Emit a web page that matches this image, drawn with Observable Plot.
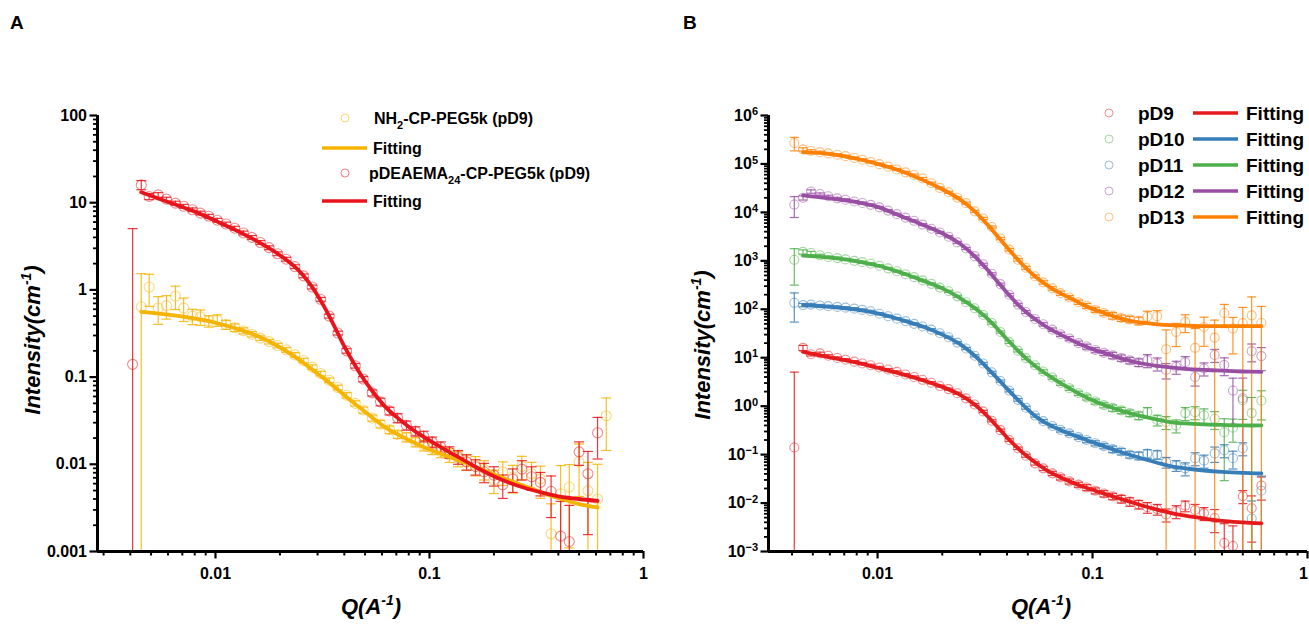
<!DOCTYPE html>
<html>
<head>
<meta charset="utf-8">
<script src="https://cdn.jsdelivr.net/npm/d3@7"></script>
<script src="https://cdn.jsdelivr.net/npm/@observablehq/plot@0.6"></script>
<style>
  html, body { margin: 0; padding: 0; background: #fff; }
  body { width: 1309px; height: 624px; overflow: hidden; position: relative; font-family: "Liberation Sans", Arial, sans-serif; }
  .panel { position: absolute; top: 0; }
  .panel svg { display: block; overflow: visible; }
  .letter { position: absolute; font-weight: bold; font-size: 19px; line-height: 19px; }
</style>
</head>
<body>
<div class="letter" style="left:10px;top:13px">A</div>
<div class="letter" style="left:683px;top:13px">B</div>
<div id="pa" class="panel" style="left:0px"></div>
<div id="pb" class="panel" style="left:660px"></div>
<script>
// ---------------- DATA ----------------
// Scattering vector Q (Å^-1) of the measured points
const qData = [0.0041,0.0045,0.0049,0.0054,0.0059,0.0065,0.0071,0.0078,0.0085,0.0093,0.0102,0.0112,0.0123,0.0135,0.0148,0.0162,0.0178,0.0195,0.0214,0.0235,0.0258,0.0283,0.031,0.034,0.0373,0.041,0.045,0.049,0.054,0.059,0.065,0.071,0.078,0.086,0.094,0.103,0.113,0.124,0.136,0.149,0.164,0.18,0.2,0.22,0.245,0.27,0.3,0.33,0.37,0.41,0.45,0.5,0.55,0.61,0.67];

// Measured intensities (cm^-1) and relative errors
const dataNH2 = [null,0.64,1.08,0.62,0.66,0.85,0.62,0.50,0.49,0.44,0.45,0.40,0.37,0.34,0.31,0.28,0.255,0.23,0.205,0.18,0.155,0.13,0.11,0.092,0.076,0.062,0.05,0.042,0.034,0.029,0.025,0.022,0.0205,0.018,0.0165,0.0152,0.014,0.0128,0.0117,0.0107,0.0098,0.0088,0.0066,0.0082,0.0072,0.0095,0.0078,0.0068,0.0016,0.0046,0.0055,0.0107,0.0050,0.004,0.036];
const relNH2 = [null,1.4,0.4,0.35,0.3,0.3,0.3,0.2,0.2,0.15,0.15,0.12,0.1,0.08,0.07,0.06,0.06,0.06,0.06,0.06,0.06,0.06,0.06,0.06,0.06,0.07,0.07,0.08,0.08,0.1,0.1,0.1,0.12,0.12,0.14,0.15,0.15,0.18,0.2,0.2,0.25,0.25,0.3,0.3,0.35,0.3,0.35,0.4,1.2,1.1,0.8,0.6,1.1,1.5,0.6];

const dataPD9 = [0.14,16,11.8,12.3,11.0,9.9,9.1,8.3,7.6,7.0,6.3,5.7,5.1,4.5,4.0,3.5,3.05,2.6,2.25,1.85,1.45,1.08,0.78,0.5,0.32,0.2,0.135,0.095,0.066,0.052,0.041,0.034,0.028,0.024,0.021,0.018,0.0157,0.0138,0.0122,0.0107,0.0094,0.0082,0.0075,0.0058,0.0068,0.0088,0.0072,0.0062,0.0049,0.0015,0.0013,0.0139,0.0078,0.023,null];
const relPD9 = [35,0.12,0.08,0.06,0.05,0.05,0.05,0.05,0.05,0.05,0.05,0.05,0.05,0.05,0.05,0.05,0.05,0.05,0.05,0.05,0.05,0.05,0.05,0.05,0.05,0.06,0.06,0.07,0.08,0.1,0.1,0.12,0.12,0.12,0.14,0.14,0.15,0.15,0.18,0.2,0.2,0.25,0.25,0.3,0.3,0.25,0.3,0.3,0.5,1.5,1.6,0.3,0.8,0.5,null];

const dataPD10 = [136,122,125,120,116,112,108,103,97,91,81,72,64,57,50,44,38,32,26.5,20.5,15.5,11,7.6,5,3.3,2.1,1.35,0.93,0.64,0.49,0.39,0.325,0.275,0.23,0.2,0.172,0.15,0.13,0.116,0.1,0.095,0.105,0.1,0.07,0.06,0.052,0.084,0.075,0.106,0.123,0.084,0.135,0.0048,0.018,null];
const relPD10 = [0.6,0.08,0.06,0.05,0.05,0.05,0.05,0.05,0.05,0.05,0.05,0.05,0.05,0.05,0.05,0.05,0.05,0.05,0.05,0.05,0.05,0.05,0.05,0.05,0.05,0.06,0.06,0.07,0.07,0.08,0.08,0.1,0.1,0.1,0.12,0.12,0.12,0.15,0.15,0.15,0.18,0.2,0.2,0.25,0.25,0.3,0.3,0.3,0.35,0.3,0.4,0.3,1.3,1.0,null];

const dataPD11 = [1050,1530,1450,1300,1200,1140,1070,1000,940,870,790,700,610,530,460,395,335,280,235,185,140,105,76,52,34,21,14,9.8,7.0,5.2,3.9,3.0,2.35,1.85,1.52,1.25,1.05,0.92,0.82,0.72,0.64,0.75,0.52,0.47,0.40,0.72,0.75,0.65,0.55,0.29,0.36,1.33,0.72,1.3,null];
const relPD11 = [0.7,0.1,0.08,0.05,0.05,0.05,0.05,0.05,0.05,0.05,0.05,0.05,0.05,0.05,0.05,0.05,0.05,0.05,0.05,0.05,0.05,0.05,0.05,0.05,0.05,0.06,0.06,0.07,0.07,0.08,0.08,0.1,0.1,0.1,0.12,0.12,0.12,0.15,0.15,0.15,0.18,0.25,0.25,0.3,0.3,0.3,0.3,0.35,0.4,0.9,0.5,0.6,1.1,0.6,null];

const dataPD12 = [14500,20000,27000,24000,21500,19500,18200,16800,15600,14300,12700,10900,9200,7800,6700,5600,4600,3850,3150,2400,1800,1250,850,540,330,200,125,88,63,49,38,30.5,25,20,17,14.4,12.6,11.2,9.9,8.8,8.0,8.9,7.6,5.6,6.5,8.1,4.0,6.0,11.4,7.1,2.1,1.46,13.7,10.8,null];
const relPD12 = [0.46,0.1,0.08,0.05,0.05,0.05,0.05,0.05,0.05,0.05,0.05,0.05,0.05,0.05,0.05,0.05,0.05,0.05,0.05,0.05,0.05,0.05,0.05,0.05,0.05,0.06,0.06,0.07,0.07,0.08,0.08,0.1,0.1,0.1,0.12,0.12,0.12,0.15,0.15,0.15,0.18,0.3,0.3,0.35,0.3,0.3,0.35,0.3,0.3,0.4,0.8,1.6,0.4,0.5,null];

const dataPD13 = [270000,200000,185000,175000,165000,155000,145000,133000,122000,110000,99000,88000,77000,67000,59000,50000,40000,32000,26000,20000,15500,10500,7500,5000,2900,1700,1050,720,480,360,270,215,175,140,118,98,84,74,66,62,58,70,72,15,34,55,16,43,26,84,40,52,75,52,null];
const relPD13 = [0.31,0.08,0.06,0.05,0.05,0.05,0.05,0.05,0.05,0.05,0.05,0.05,0.05,0.05,0.05,0.05,0.05,0.05,0.05,0.05,0.05,0.05,0.05,0.05,0.05,0.06,0.06,0.07,0.07,0.08,0.08,0.1,0.1,0.1,0.12,0.12,0.12,0.15,0.15,0.15,0.18,0.3,0.3,1.5,0.5,0.4,1.5,0.6,1.3,0.5,0.7,1.1,1.4,1.2,null];

// Fitted curves
const fitQ = [0.0045,0.006,0.008,0.01,0.013,0.016,0.02,0.024,0.028,0.032,0.036,0.04,0.045,0.05,0.056,0.063,0.07,0.08,0.09,0.1,0.115,0.13,0.15,0.17,0.2,0.23,0.27,0.33,0.4,0.5,0.61];
const fitNH2  = [0.56,0.52,0.47,0.42,0.35,0.29,0.22,0.165,0.125,0.097,0.077,0.062,0.049,0.040,0.032,0.026,0.0225,0.019,0.0165,0.0148,0.013,0.0117,0.0102,0.0090,0.0077,0.0067,0.0058,0.0048,0.0041,0.0035,0.0032];
const fitPD9  = [13.2,10.2,7.9,6.2,4.6,3.5,2.5,1.75,1.12,0.66,0.38,0.225,0.135,0.09,0.062,0.044,0.035,0.027,0.022,0.0188,0.0153,0.0129,0.0106,0.0089,0.0073,0.0063,0.0055,0.0048,0.0043,0.0040,0.0038];
const fitPD10 = [122,112,98,82,60,45,30,19.5,11.5,6.5,3.8,2.3,1.35,0.85,0.56,0.41,0.33,0.26,0.215,0.18,0.145,0.12,0.098,0.083,0.068,0.058,0.052,0.047,0.044,0.042,0.041];
const fitPD11 = [1280,1160,980,800,560,400,270,175,110,68,40,24,14,9.0,6.0,4.2,3.1,2.2,1.65,1.32,1.03,0.86,0.71,0.62,0.53,0.47,0.44,0.42,0.41,0.40,0.40];
const fitPD12 = [22500,19500,16300,13000,8200,5700,3700,2300,1300,700,380,220,125,82,56,40,31,23,18,15,12.3,10.3,8.6,7.6,6.8,6.3,5.9,5.6,5.4,5.2,5.1];
const fitPD13 = [175000,160000,128000,100000,70000,48000,30000,19000,11000,6000,3300,1900,1050,650,420,290,220,165,125,102,82,68,58,53,49,47,46,45,45,45,45];

// Axis tick values / labels
const xMajors = [0.01, 0.1, 1];
const xLabels = ["0.01", "0.1", "1"];
const yMajorsA = [0.001, 0.01, 0.1, 1, 10, 100];
const yLabelsA = ["0.001", "0.01", "0.1", "1", "10", "100"];
const yMajorsB = [1e-3, 1e-2, 1e-1, 1, 1e1, 1e2, 1e3, 1e4, 1e5, 1e6];
const yExpB = ["−3", "−2", "−1", "0", "1", "2", "3", "4", "5", "6"];

// Legend texts
const legendBNames = ["pD9", "pD10", "pD11", "pD12", "pD13"];

// ---------------- STYLE ----------------
const YEL = "#f6b400", REDA = "#e8131b";
const SET = ["#e41a1c", "#377eb8", "#4daf4a", "#984ea3", "#ff7f00"];
const legendCircleB = ["#e41a1c", "#4daf4a", "#377eb8", "#984ea3", "#ff7f00"];
const FONT = '"Liberation Sans", Arial, Helvetica, sans-serif';

function minorTicks(lo, hi) {
  const out = [];
  for (let e = Math.floor(Math.log10(lo)); e < Math.ceil(Math.log10(hi)); e++) {
    for (let m = 2; m <= 9; m++) {
      const v = m * Math.pow(10, e);
      if (v >= lo && v <= hi) out.push(v);
    }
  }
  return out;
}

function toRows(vals, rel, ymin) {
  const rows = [];
  vals.forEach((v, i) => {
    if (v == null) return;
    const e = v * rel[i];
    rows.push({q: qData[i], v, hi: v + e, lo: Math.max(v - e, ymin), loCap: v - e > ymin});
  });
  return rows;
}
function fitRows(vals) { return fitQ.map((q, i) => ({q, v: vals[i]})); }

function dataMarks(rows, color, cap, r, dotOp) {
  const bar = {stroke: color, strokeWidth: 1.2, strokeOpacity: 0.85};
  return [
    Plot.ruleX(rows, {x: "q", y1: "lo", y2: "hi", ...bar}),
    Plot.link(rows, {x1: d => d.q / cap, x2: d => d.q * cap, y1: "hi", y2: "hi", ...bar}),
    Plot.link(rows.filter(d => d.loCap), {x1: d => d.q / cap, x2: d => d.q * cap, y1: "lo", y2: "lo", ...bar}),
    Plot.dot(rows, {x: "q", y: "v", r, stroke: color, strokeWidth: 1.1, strokeOpacity: dotOp, fill: "none"})
  ];
}
function fitMark(vals, color, w) {
  return Plot.line(fitRows(vals), {x: "q", y: "v", stroke: color, strokeWidth: w, curve: "catmull-rom"});
}
function axisMarks(xDom, yDom, yMaj, yFmt) {
  return [
    Plot.axisX({ticks: minorTicks(xDom[0], xDom[1]), tickSize: 4.5, tickFormat: () => "", strokeWidth: 2, label: null}),
    Plot.axisX({ticks: xMajors, tickSize: 7.5, tickPadding: 9, tickFormat: d => xLabels[xMajors.indexOf(d)], strokeWidth: 2.2, label: null}),
    Plot.axisY({ticks: minorTicks(yDom[0], yDom[1]), tickSize: 4, tickFormat: () => "", strokeWidth: 1.8, label: null}),
    Plot.axisY({ticks: yMaj, tickSize: 7.5, tickPadding: 3, tickFormat: yFmt, strokeWidth: 2.2, label: null}),
    Plot.ruleX([xDom[0]], {strokeWidth: 3}),
    Plot.ruleY([yDom[0]], {strokeWidth: 3})
  ];
}
function addTitle(svg, x, y, rotate, main) {
  const t = d3.select(svg).append("text")
    .attr("transform", `translate(${x},${y})` + (rotate ? " rotate(-90)" : ""))
    .attr("text-anchor", "middle").attr("font-size", 22).attr("font-weight", "bold")
    .attr("font-style", "italic").attr("fill", "#000");
  t.append("tspan").text(main);
  t.append("tspan").attr("dy", -9).attr("font-size", 14).text("-1");
  t.append("tspan").attr("dy", 9).text(")");
}

const baseStyle = {fontFamily: FONT, fontSize: "16px", fontWeight: "bold", overflow: "visible", background: "transparent", color: "#000"};

// ---------------- PANEL A ----------------
const xDomA = [0.00281, 1], yDomA = [0.001, 100];
const capA = Math.pow(10, 5 / 214);
const rowsNH2 = toRows(dataNH2, relNH2, yDomA[0]);
const rowsPD9A = toRows(dataPD9, relPD9, yDomA[0]);

const plotA = Plot.plot({
  width: 660, height: 624,
  marginLeft: 97, marginRight: 17, marginTop: 115, marginBottom: 73,
  style: baseStyle,
  x: {type: "log", domain: xDomA},
  y: {type: "log", domain: yDomA},
  marks: [
    ...dataMarks(rowsNH2, YEL, capA, 5, 0.5),
    ...dataMarks(rowsPD9A, REDA, capA, 5, 0.5),
    fitMark(fitNH2, YEL, 3.8),
    fitMark(fitPD9, REDA, 3.8),
    ...axisMarks(xDomA, yDomA, yMajorsA, d => yLabelsA[yMajorsA.indexOf(d)])
  ]
});
document.getElementById("pa").appendChild(plotA);

addTitle(plotA, 371, 614, false, "Q(A");
addTitle(plotA, 40, 340, true, "Intensity(cm");

{
  const g = d3.select(plotA).append("g").attr("font-size", 16).attr("font-weight", "bold").attr("fill", "#000");
  g.append("circle").attr("cx", 345).attr("cy", 118).attr("r", 4).attr("fill", "none").attr("stroke", YEL).attr("stroke-opacity", 0.55);
  const t1 = g.append("text").attr("x", 374).attr("y", 124).attr("text-anchor", "start");
  t1.append("tspan").text("NH");
  t1.append("tspan").attr("dy", 5).attr("font-size", 11).text("2");
  t1.append("tspan").attr("dy", -5).text("-CP-PEG5k (pD9)");
  g.append("line").attr("x1", 322).attr("x2", 367).attr("y1", 148).attr("y2", 148).attr("stroke", YEL).attr("stroke-width", 3.5);
  g.append("text").attr("x", 373).attr("y", 154).attr("text-anchor", "start").text("Fitting");
  g.append("circle").attr("cx", 345).attr("cy", 173).attr("r", 4).attr("fill", "none").attr("stroke", REDA).attr("stroke-opacity", 0.55);
  const t2 = g.append("text").attr("x", 369).attr("y", 179).attr("text-anchor", "start");
  t2.append("tspan").text("pDEAEMA");
  t2.append("tspan").attr("dy", 5).attr("font-size", 11).text("24");
  t2.append("tspan").attr("dy", -5).text("-CP-PEG5k (pD9)");
  g.append("line").attr("x1", 322).attr("x2", 367).attr("y1", 201).attr("y2", 201).attr("stroke", REDA).attr("stroke-width", 3.5);
  g.append("text").attr("x", 373).attr("y", 207).attr("text-anchor", "start").text("Fitting");
}

// ---------------- PANEL B ----------------
const xDomB = [0.00311, 1], yDomB = [0.001, 1e6];
const capB = Math.pow(10, 4.5 / 215);
const seriesB = [
  {data: dataPD9, rel: relPD9, fit: fitPD9},
  {data: dataPD10, rel: relPD10, fit: fitPD10},
  {data: dataPD11, rel: relPD11, fit: fitPD11},
  {data: dataPD12, rel: relPD12, fit: fitPD12},
  {data: dataPD13, rel: relPD13, fit: fitPD13}
];
const plotB = Plot.plot({
  width: 649, height: 624,
  marginLeft: 108, marginRight: 2, marginTop: 115, marginBottom: 73,
  style: baseStyle,
  x: {type: "log", domain: xDomB},
  y: {type: "log", domain: yDomB},
  marks: [
    ...seriesB.flatMap((s, i) => dataMarks(toRows(s.data, s.rel, yDomB[0]), SET[i], capB, 4.5, 0.5)),
    ...seriesB.map((s, i) => fitMark(s.fit, SET[i], 3.8)),
    ...axisMarks(xDomB, yDomB, yMajorsB, d => "10^" + yExpB[yMajorsB.indexOf(d)])
  ]
});
document.getElementById("pb").appendChild(plotB);

d3.select(plotB).selectAll('g[aria-label="y-axis tick label"] text').each(function () {
  const t = this.textContent;
  if (!t.includes("^")) return;
  const e = t.split("^")[1];
  this.textContent = "10";
  d3.select(this).append("tspan").attr("dy", "-0.5em").attr("font-size", 11).text(e);
});
// keep the "1" at the right end of panel B inside the page
d3.select(plotB).selectAll('g[aria-label="x-axis tick label"] text').each(function () {
  if (this.textContent === "1") d3.select(this).attr("dx", -4);
});

addTitle(plotB, 381, 614, false, "Q(A");
addTitle(plotB, 50, 345, true, "Intensity(cm");

{
  const g = d3.select(plotB).append("g").attr("font-size", 19).attr("font-weight", "bold").attr("fill", "#000");
  legendBNames.forEach((name, i) => {
    const y = 113 + 26 * i;
    g.append("circle").attr("cx", 449).attr("cy", y).attr("r", 4).attr("fill", "none").attr("stroke", legendCircleB[i]).attr("stroke-opacity", 0.5);
    g.append("text").attr("x", 478).attr("y", y + 7).attr("text-anchor", "start").text(name);
    g.append("line").attr("x1", 533).attr("x2", 578).attr("y1", y).attr("y2", y).attr("stroke", SET[i]).attr("stroke-width", 3.5);
    g.append("text").attr("x", 586).attr("y", y + 7).attr("text-anchor", "start").text("Fitting");
  });
}
</script>
</body>
</html>
